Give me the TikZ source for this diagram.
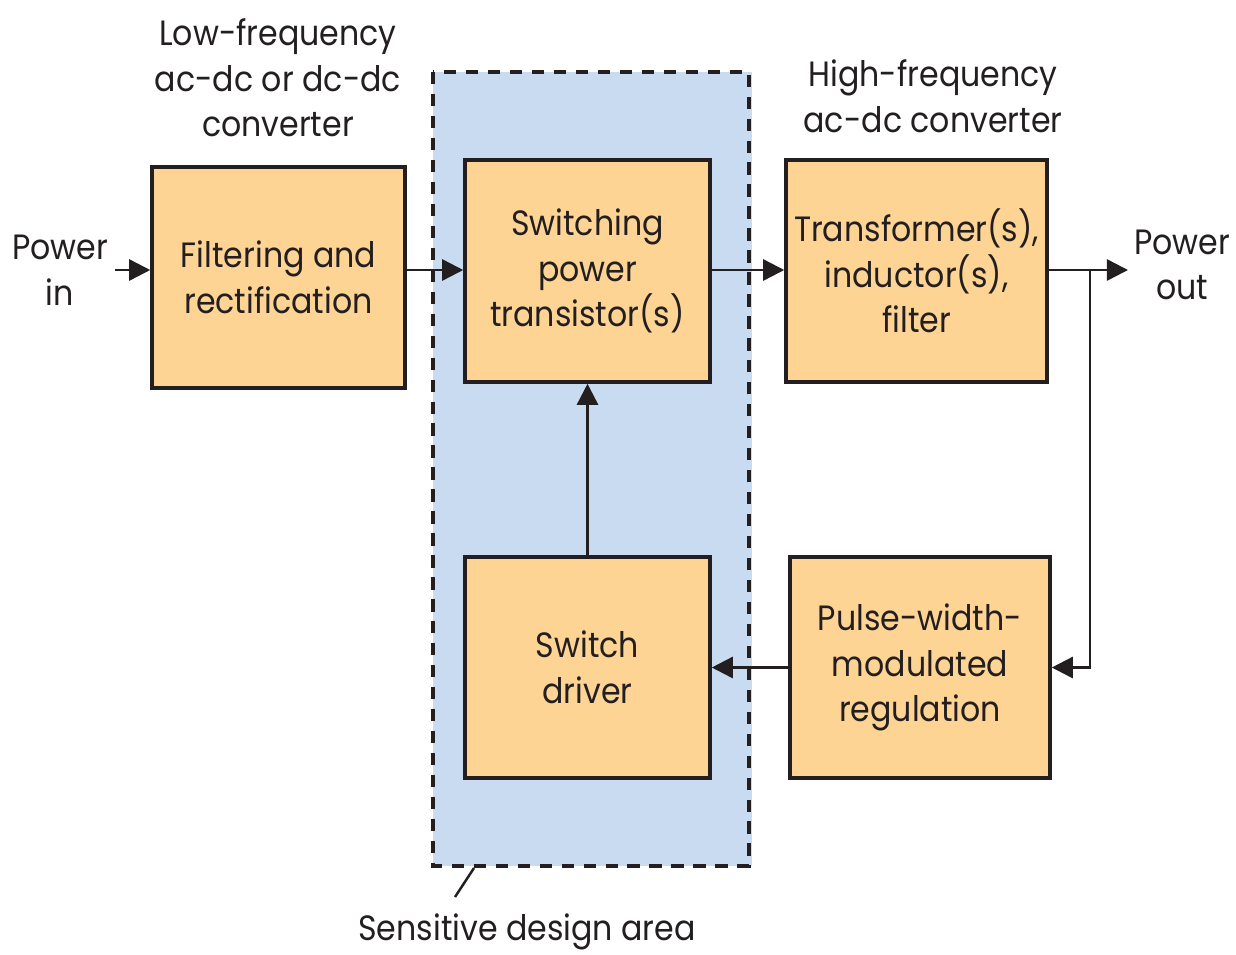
\documentclass[tikz,border=0pt]{standalone}
\usepackage{fontspec}
\setmainfont[FakeStretch=0.9]{Poppins}
\usepackage{tikz}
\usetikzlibrary{arrows.meta}

\definecolor{boxfill}{RGB}{253,212,148}
\definecolor{areafill}{RGB}{201,219,241}
\definecolor{ink}{RGB}{35,31,32}

\tikzset{
  blk/.style={draw=ink, line width=2pt, fill=boxfill, align=center,
    inner sep=0pt, text=ink},
  arr/.style={draw=ink, line width=1.4pt, -{Triangle[length=12pt,width=12pt]}},
  lbl/.style={align=center, text=ink, inner sep=0pt}
}

\begin{document}
\begin{tikzpicture}[font=\fontsize{20}{26}\selectfont]
\useasboundingbox (0,0) rectangle (24.72,-19.08);

% sensitive area
\fill[areafill] (8.66,-1.44) rectangle (15.04,-17.32);
\draw[ink, line width=2pt, dash pattern=on 7pt off 5.5pt] (8.66,-1.44) rectangle (14.98,-17.32);

% blocks
\node[blk, minimum width=5.06cm, minimum height=4.42cm] (filt) at (5.57,-5.55) {Filtering and\\rectification};
\node[blk, minimum width=4.90cm, minimum height=4.44cm] (sw) at (11.75,-5.42) {Switching\\power\\transistor(s)};
\node[blk, minimum width=5.22cm, minimum height=4.44cm] (xfmr) at (18.33,-5.42) {Transformer(s),\\inductor(s),\\filter};
\node[blk, minimum width=4.90cm, minimum height=4.42cm] (drv) at (11.75,-13.35) {Switch\\driver};
\node[blk, minimum width=5.20cm, minimum height=4.42cm] (pwm) at (18.40,-13.35) {Pulse-width-\\modulated\\regulation};

% labels
\node[lbl] (pin) at (1.20,-5.40) {Power\\in};
\node[lbl] (pout) at (23.64,-5.30) {Power\\out};
\node[lbl] (lf) at (5.56,-1.56) {Low-frequency\\ac-dc or dc-dc\\converter};
\node[lbl] (hf) at (18.66,-1.92) {High-frequency\\ac-dc converter};
\node[lbl] (area) at (10.54,-18.64) {Sensitive design area};

% connectors
\coordinate (tap) at (21.80,-5.40);
\coordinate (lead) at (9.10,-17.94);
\draw[arr] (2.30,-5.40) -- (filt.west |- 0,-5.40);
\draw[arr] (filt.east |- 0,-5.40) -- (sw.west |- 0,-5.40);
\draw[arr] (sw.east |- 0,-5.40) -- (xfmr.west |- 0,-5.40);
\draw[arr] (xfmr.east |- 0,-5.40) -- (22.56,-5.40);
\draw[arr] (tap) |- (pwm.east);
\draw[arr] (pwm.west) -- (drv.east);
\draw[arr] (drv.north) -- (sw.south);
\draw[ink, line width=1.4pt] (lead) -- (9.48,-17.36);

\end{tikzpicture}
\end{document}
